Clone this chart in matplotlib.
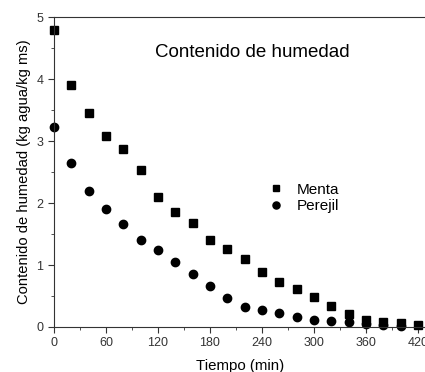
import matplotlib
matplotlib.use("Agg")
from matplotlib import pyplot as plt
from matplotlib.ticker import MultipleLocator

plt.rcParams['font.family'] = ['Liberation Sans', 'DejaVu Sans']

# data
tiempo_menta = [0, 20, 40, 60, 80, 100, 120, 140, 160, 180, 200, 220, 240, 260, 280,
                300, 320, 340, 360, 380, 400, 420]
menta = [4.80, 3.90, 3.46, 3.08, 2.87, 2.54, 2.10, 1.85, 1.67, 1.41, 1.26, 1.10, 0.88,
         0.72, 0.61, 0.48, 0.34, 0.21, 0.11, 0.08, 0.07, 0.04]
tiempo_perejil = [0, 20, 40, 60, 80, 100, 120, 140, 160, 180, 200, 220, 240, 260, 280,
                  300, 320, 340, 360, 380, 400]
perejil = [3.22, 2.64, 2.20, 1.90, 1.66, 1.41, 1.24, 1.05, 0.85, 0.66, 0.46, 0.32, 0.27,
           0.22, 0.16, 0.11, 0.09, 0.08, 0.05, 0.03, 0.02]

fig = plt.figure(figsize=(4.25, 3.72), dpi=100)
ax = fig.add_axes([0.127, 0.121, 0.877, 0.833])

ax.plot(tiempo_menta, menta, 's', color='black', markersize=5.5, label='Menta', clip_on=False)
ax.plot(tiempo_perejil, perejil, 'o', color='black', markersize=6, label='Perejil', clip_on=False)

ax.set_xlim(0, 430)
ax.set_ylim(0, 5)
ax.xaxis.set_major_locator(MultipleLocator(60))
ax.xaxis.set_minor_locator(MultipleLocator(30))
ax.yaxis.set_major_locator(MultipleLocator(1))
ax.yaxis.set_minor_locator(MultipleLocator(0.5))
ax.tick_params(which='both', direction='out', labelsize=9, colors='#333333')
ax.tick_params(which='major', length=4)
ax.tick_params(which='minor', length=2.5)
for s in ax.spines.values():
    s.set_color('#333333')

ax.set_xlabel('Tiempo (min)', fontsize=10.8, labelpad=7)
ax.set_ylabel('Contenido de humedad (kg agua/kg ms)', fontsize=10.6, labelpad=4)
ax.text(0.533, 0.885, 'Contenido de humedad', transform=ax.transAxes, ha='center',
        va='center', fontsize=13.5)

ax.legend(loc='upper left', bbox_to_anchor=(0.55, 0.49), frameon=False, fontsize=11,
          handletextpad=0.8, labelspacing=0.15, handlelength=1.2, borderpad=0,
          markerscale=0.85)

plt.savefig('out.png', dpi=100)
